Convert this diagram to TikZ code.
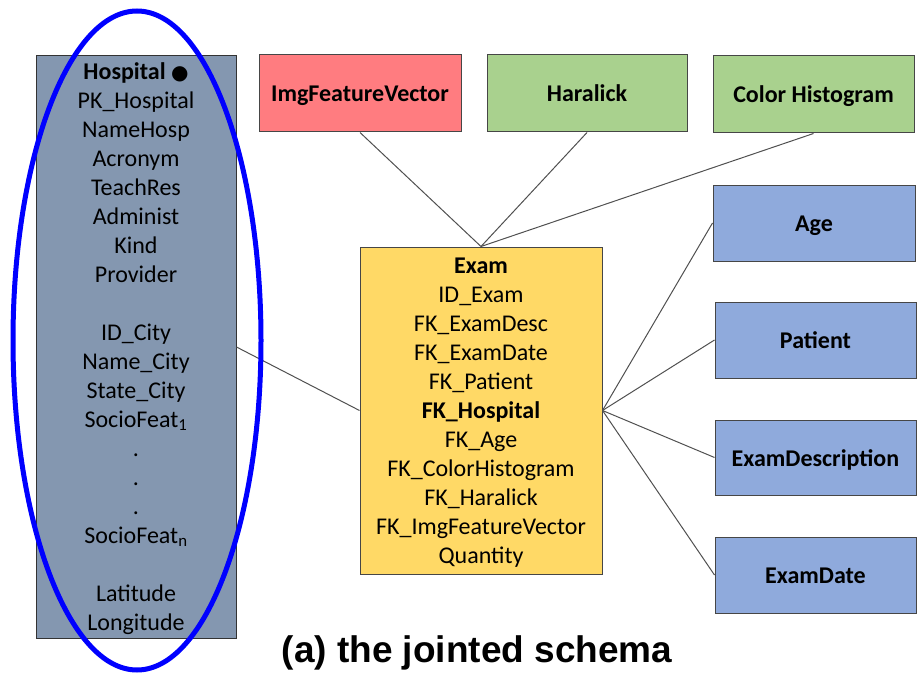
\documentclass[tikz,border=0pt]{standalone}
\usepackage{fontspec}
\setmainfont{Carlito}
\newfontfamily\capfont{Liberation Sans}
\newfontfamily\symfont{DejaVu Sans}

\definecolor{hospfill}{RGB}{132,151,176}
\definecolor{examfill}{RGB}{255,217,102}
\definecolor{redfill}{RGB}{255,124,128}
\definecolor{greenfill}{RGB}{169,209,142}
\definecolor{bluefill}{RGB}{143,170,220}
\definecolor{boxline}{RGB}{70,70,70}
\definecolor{linkcol}{RGB}{80,80,80}
\definecolor{ringblue}{RGB}{0,0,255}

% struts for the first and last rows of a table box
\newcommand{\toprow}{\rule{0pt}{21pt}}
\newcommand{\lastrow}{\rule[-6pt]{0pt}{6pt}}

\begin{document}
\begin{tikzpicture}[x=1pt,y=-1pt,
  entity/.style={draw=boxline, line width=1pt, inner sep=0pt, align=center,
    font=\fontsize{24}{29}\selectfont},
  dimbox/.style={entity, font=\fontsize{24}{29}\selectfont\bfseries,
    text height=20pt, text depth=3pt,
    minimum width=201pt, minimum height=76pt},
  link/.style={draw=linkcol, line width=1pt}]

\useasboundingbox (0,0) rectangle (921,674);

% fact and dimension tables
\node[entity, fill=hospfill, draw=black!80, minimum width=200pt, minimum height=582pt]
  (hosp) at (136,347) {\toprow\textbf{Hospital} {\symfont\fontsize{20}{29}\selectfont ●}\\
  PK\_Hospital\\ NameHosp\\ Acronym\\ TeachRes\\ Administ\\ Kind\\ Provider\\ ~\\
  ID\_City\\ Name\_City\\ State\_City\\ SocioFeat\textsubscript{1}\\ .\\ .\\ .\\
  SocioFeat\textsubscript{n}\\ ~\\ Latitude\\ Longitude\lastrow};

\node[entity, fill=examfill, minimum width=242pt, minimum height=327pt]
  (exam) at (481,410.5) {\toprow\textbf{Exam}\\ ID\_Exam\\ FK\_ExamDesc\\ FK\_ExamDate\\
  FK\_Patient\\ \textbf{FK\_Hospital}\\ FK\_Age\\ FK\_ColorHistogram\\ FK\_Haralick\\
  FK\_ImgFeatureVector\\ Quantity\lastrow};

\node[dimbox, fill=redfill, minimum width=202pt, minimum height=77pt]
  (ifv) at (360,93.5) {ImgFeatureVector};
\node[dimbox, fill=greenfill, minimum width=200pt, minimum height=77pt]
  (har) at (587,93.5) {Haralick};
\node[dimbox, fill=greenfill, minimum height=77pt]
  (hist) at (813.5,94.5) {Color Histogram};

\node[dimbox, fill=bluefill, minimum width=202pt] (age) at (814,223) {Age};
\node[dimbox, fill=bluefill] (pat) at (815.5,340) {Patient};
\node[dimbox, fill=bluefill, minimum height=75pt] (desc) at (815.5,457.5) {ExamDescription};
\node[dimbox, fill=bluefill] (date) at (815.5,575) {ExamDate};

% connectors
\path[link] (ifv.south) -- (exam.north);
\path[link] (har.south) -- (exam.north);
\path[link] (hist.south) -- (exam.north);
\path[link] (hosp.east) -- (exam.west);
\path[link] (exam.east) -- (age.west);
\path[link] (exam.east) -- (pat.west);
\path[link] (exam.east) -- (desc.west);
\path[link] (exam.east) -- (date.west);

% highlight ring round the hospital table
\draw[ringblue, line width=5pt] (hosp.center) ++(1,-6.5)
  ellipse [x radius=124pt, y radius=329.5pt];

% caption
\node[anchor=base, inner sep=0pt, font=\capfont\bfseries\fontsize{37}{40}\selectfont]
  (cap) at (477,662) {(a) the jointed schema};
\end{tikzpicture}
\end{document}
